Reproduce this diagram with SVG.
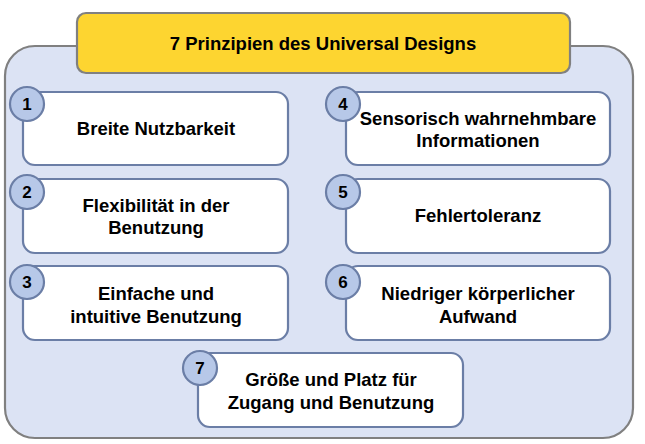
<svg xmlns="http://www.w3.org/2000/svg" width="645" height="444" viewBox="0 0 645 444">
<style>
.box{fill:#ffffff;stroke:#6b7ea6;stroke-width:2.2}
.num{fill:#b7c8e8;stroke:#6b7ea6;stroke-width:2.2}
.t{font-family:"Liberation Sans",Arial,sans-serif;font-weight:bold;font-size:18.5px;fill:#000;text-anchor:middle}
.n{font-family:"Liberation Sans",Arial,sans-serif;font-weight:bold;font-size:17px;fill:#000;text-anchor:middle}
</style>
<rect width="645" height="444" fill="#ffffff"/>
<g id="container">
<rect x="5" y="46" width="628" height="392" rx="30" fill="#dce3f4" stroke="#808080" stroke-width="2.2"/>
</g>
<g id="title">
<rect x="77" y="13" width="493" height="60" rx="9" fill="#fdd530" stroke="#808080" stroke-width="2.2"/>
<text class="t" x="323" y="50">7 Prinzipien des Universal Designs</text>
</g>
<g id="connectors"></g>
<g id="p1">
<rect class="box" x="23" y="92" width="265" height="73" rx="12"/>
<circle class="num" cx="27" cy="104" r="17"/>
<text class="n" x="27" y="110">1</text>
<text class="t" x="156" y="135">Breite Nutzbarkeit</text>
</g>
<g id="p2">
<rect class="box" x="23" y="179" width="265" height="74" rx="12"/>
<circle class="num" cx="27" cy="192" r="17"/>
<text class="n" x="27" y="198">2</text>
<text class="t" x="156" y="212">Flexibilität in der</text>
<text class="t" x="156" y="234">Benutzung</text>
</g>
<g id="p3">
<rect class="box" x="23" y="266" width="265" height="74" rx="12"/>
<circle class="num" cx="27" cy="282" r="17"/>
<text class="n" x="27" y="288">3</text>
<text class="t" x="156" y="300">Einfache und</text>
<text class="t" x="156" y="323">intuitive Benutzung</text>
</g>
<g id="p4">
<rect class="box" x="346" y="92" width="264" height="73" rx="12"/>
<circle class="num" cx="343" cy="104" r="17"/>
<text class="n" x="343" y="110">4</text>
<text class="t" x="478" y="125">Sensorisch wahrnehmbare</text>
<text class="t" x="478" y="147">Informationen</text>
</g>
<g id="p5">
<rect class="box" x="346" y="179" width="264" height="74" rx="12"/>
<circle class="num" cx="343" cy="192" r="17"/>
<text class="n" x="343" y="198">5</text>
<text class="t" x="478" y="222">Fehlertoleranz</text>
</g>
<g id="p6">
<rect class="box" x="346" y="266" width="264" height="74" rx="12"/>
<circle class="num" cx="343" cy="282" r="17"/>
<text class="n" x="343" y="288">6</text>
<text class="t" x="478" y="300">Niedriger körperlicher</text>
<text class="t" x="478" y="323">Aufwand</text>
</g>
<g id="p7">
<rect class="box" x="198" y="353" width="265" height="74" rx="12"/>
<circle class="num" cx="200" cy="368" r="17"/>
<text class="n" x="200" y="374">7</text>
<text class="t" x="331" y="386">Größe und Platz für</text>
<text class="t" x="331" y="409">Zugang und Benutzung</text>
</g>
</svg>
